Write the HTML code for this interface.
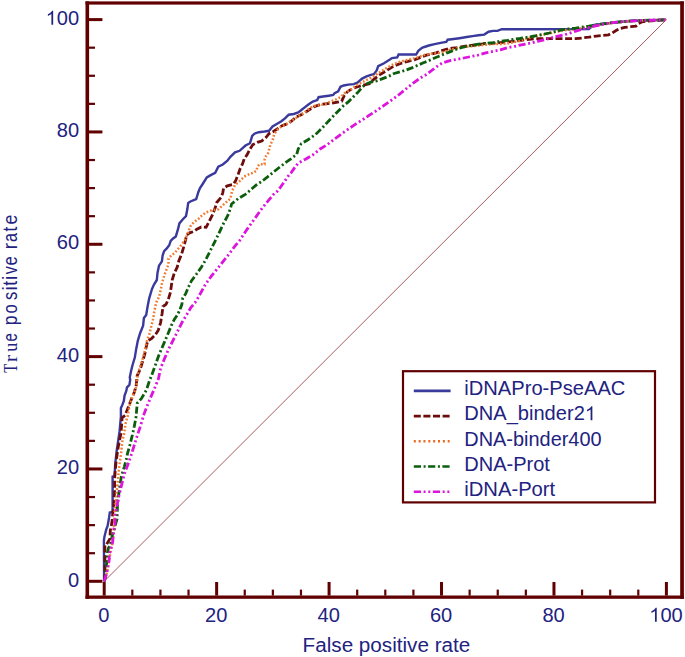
<!DOCTYPE html>
<html><head><meta charset="utf-8"><style>
html,body{margin:0;padding:0;background:#fff;}
body{width:685px;height:657px;overflow:hidden;}
svg{display:block;}
text{font-family:"Liberation Sans",sans-serif;fill:#22227f;}
</style></head><body>
<svg width="685" height="657" viewBox="0 0 685 657">
<rect x="0" y="0" width="685" height="657" fill="#fff"/>

<line x1="104.2" y1="581.3" x2="666.4" y2="19.6" stroke="#984040" stroke-width="1" stroke-opacity="0.85"/>
<polyline fill="none" stroke="#3a3a9c" stroke-width="2.4" stroke-linejoin="miter" points="104.1,581.3 103.9,540.5 104.4,536.9 105.3,533.2 106.2,529.6 107.6,525.9 109.0,518.0 109.8,512.5 112.6,512.0 112.6,476.6 114.6,476.0 115.2,464.4 116.5,452.2 118.3,440.0 119.6,431.2 120.9,416.6 120.9,408.0 122.1,405.6 123.9,400.7 124.5,395.9 126.3,391.0 127.0,387.3 129.4,384.9 130.2,380.0 129.8,377.3 131.0,371.3 132.5,365.2 134.8,357.6 136.3,348.4 137.8,340.8 140.1,333.2 143.1,325.6 143.9,318.0 146.2,315.0 147.7,305.9 149.2,298.3 152.0,289.0 154.0,284.5 156.8,280.0 157.5,273.0 159.0,265.7 161.9,261.3 162.6,255.5 164.1,251.1 167.0,248.2 169.2,245.3 170.7,240.9 172.8,238.7 175.8,236.5 178.0,229.2 179.4,223.4 183.1,219.0 186.0,216.1 187.4,208.8 188.2,202.9 190.4,201.5 196.2,199.0 198.4,192.0 200.0,188.1 203.0,183.5 206.8,177.4 210.7,175.1 215.2,172.8 218.3,166.7 222.8,164.5 227.4,160.7 230.4,156.8 235.0,152.3 239.6,150.8 245.5,145.5 250.0,143.2 252.2,135.9 254.4,133.7 258.8,132.2 264.6,131.5 269.0,130.8 272.6,126.4 276.3,124.2 281.4,121.3 285.0,118.4 288.7,114.7 293.8,114.0 298.2,112.5 301.1,110.3 304.7,107.4 308.4,104.5 312.8,101.6 317.2,100.1 318.6,97.2 323.0,96.5 328.8,95.7 333.2,95.0 334.6,93.2 338.2,91.4 340.5,86.8 343.7,85.5 348.3,84.6 353.7,84.1 357.4,82.7 362.1,78.6 366.5,76.4 370.9,74.9 373.8,74.2 376.7,70.5 378.2,66.2 384.0,63.2 389.9,59.6 392.0,58.1 397.2,57.4 398.6,54.5 405.9,54.5 416.1,54.5 418.3,50.8 422.0,47.9 424.4,47.0 428.8,45.5 434.6,44.1 441.9,42.6 446.3,41.9 447.7,39.7 453.6,39.0 459.4,38.2 463.8,37.5 468.2,36.8 472.6,36.1 478.4,35.3 484.2,34.6 488.6,31.7 493.0,30.9 497.4,30.9 501.8,29.2 588.8,29.1 594.1,24.9 600.0,24.2 614.8,22.4 627.2,21.2 639.6,20.5 652.0,20.2 666.2,19.8"/>
<polyline fill="none" stroke="#6e0c0c" stroke-width="2.8" stroke-dasharray="7 2.6" points="104.2,581.3 104.9,578.0 104.9,545.0 106.7,544.2 109.9,538.7 110.3,530.5 111.2,526.8 112.2,520.0 112.8,513.0 114.0,503.3 114.6,491.1 114.6,478.9 115.8,464.3 116.6,458.0 118.4,445.9 120.9,433.7 121.5,426.3 122.1,417.8 125.1,415.4 127.0,410.5 129.4,404.4 131.8,398.3 134.3,392.2 136.1,386.1 136.8,380.0 137.1,375.8 140.1,369.7 142.4,362.1 144.7,354.5 146.2,346.9 147.7,340.8 151.5,338.6 155.3,334.8 158.3,330.2 160.6,322.6 162.1,313.5 162.9,306.6 166.0,304.3 168.2,299.8 170.5,292.2 171.3,286.1 172.1,280.3 174.3,273.0 177.2,267.2 178.7,261.3 181.6,254.0 183.8,246.7 185.3,240.9 186.7,235.0 189.6,232.8 194.0,231.4 196.9,229.2 201.3,227.0 206.1,227.4 209.1,221.5 212.2,215.4 215.2,207.8 216.7,202.5 221.3,197.2 222.8,192.6 223.6,188.1 227.4,185.8 233.5,184.2 235.8,180.4 238.1,174.4 240.3,168.3 242.6,163.7 244.1,159.1 247.2,154.6 250.0,149.0 252.9,144.6 257.3,142.4 261.7,141.0 266.1,137.3 269.0,133.7 273.4,131.5 277.7,128.6 282.1,125.7 288.0,123.5 292.3,120.5 295.3,117.6 299.6,115.4 304.0,113.2 308.4,110.3 314.2,106.7 320.1,104.5 325.9,103.8 331.8,103.2 337.6,102.2 341.7,101.2 343.9,96.1 347.5,91.7 351.9,88.8 357.7,86.6 363.6,85.1 369.4,83.7 373.8,79.3 379.6,74.9 385.5,71.3 391.3,67.6 397.2,64.7 403.0,62.5 408.8,61.1 414.7,59.6 420.5,57.4 426.4,55.2 430.2,54.3 436.1,52.8 441.9,50.7 449.2,48.5 456.5,47.7 463.8,46.3 471.1,45.5 478.4,44.8 485.7,43.4 493.0,43.4 500.3,42.6 507.6,41.9 514.9,41.2 520.0,40.4 523.1,40.0 536.3,38.7 575.7,38.7 588.8,37.2 596.2,36.1 602.4,35.4 608.6,34.8 612.3,33.0 616.1,30.5 619.8,28.6 624.7,27.4 630.9,26.7 635.9,26.1 638.4,23.6 642.1,21.8 647.1,21.2 654.5,20.5 666.2,19.8"/>
<polyline fill="none" stroke="#f07c34" stroke-width="2.5" stroke-dasharray="1.8 1.9" points="104.2,581.3 107.1,572.0 110.0,555.0 113.0,540.0 114.2,525.0 114.6,513.0 115.8,500.8 117.0,488.7 118.2,476.5 119.5,464.3 120.9,455.0 122.5,440.0 123.9,434.9 125.7,422.7 127.6,416.6 129.4,406.0 131.8,398.3 134.3,392.2 136.5,386.0 137.2,380.0 137.8,374.3 140.1,366.7 143.1,357.6 145.4,348.4 146.9,340.8 149.2,334.8 150.7,328.7 153.0,319.5 154.5,310.4 156.1,302.8 159.1,296.7 160.9,289.1 162.0,283.2 164.1,275.9 166.3,270.1 168.5,264.2 168.5,258.4 171.4,255.5 175.0,252.6 178.7,248.2 182.3,243.8 185.3,239.4 188.2,232.1 190.4,226.3 194.0,221.9 198.4,219.0 200.0,217.0 206.1,212.4 212.2,210.1 218.3,209.4 224.4,203.8 230.4,198.7 232.0,191.1 235.0,185.0 239.6,181.2 244.1,176.6 250.2,173.8 253.6,172.6 256.6,170.4 257.3,166.8 259.5,164.2 264.6,164.2 264.6,159.5 266.1,155.8 268.2,152.9 270.4,144.6 272.6,140.3 274.1,134.4 277.0,130.0 281.4,126.4 286.5,124.2 290.9,121.3 295.3,118.4 299.6,115.4 305.5,111.8 309.9,108.1 314.2,106.0 320.1,105.2 325.9,103.8 330.3,101.6 336.1,99.4 340.5,97.2 344.6,93.2 351.9,88.8 359.2,83.7 365.0,80.8 370.9,77.8 376.7,74.2 382.6,70.5 388.4,66.9 394.2,64.0 400.1,61.8 405.9,60.3 411.8,58.9 417.6,57.4 423.4,55.2 430.0,53.8 441.9,52.8 449.2,49.9 456.5,48.5 463.8,47.0 471.1,46.3 478.4,45.5 485.7,44.8 493.0,44.1 500.3,44.1 507.6,43.4 514.9,41.9 520.0,41.0 523.1,39.3 536.3,36.0 549.4,33.4 562.6,30.5 575.7,29.0 588.8,27.0 600.0,25.0 614.8,22.6 627.2,21.3 639.6,20.6 666.2,19.8"/>
<polyline fill="none" stroke="#0b5e0b" stroke-width="2.8" stroke-dasharray="7.2 2.6 2 2.5" points="104.2,581.3 105.8,576.1 106.7,561.5 107.1,554.2 108.5,547.8 109.9,546.0 112.6,534.1 114.0,530.5 114.9,526.8 117.0,519.1 117.6,503.3 119.5,488.7 121.3,476.5 124.3,466.8 126.3,459.3 127.6,453.2 130.0,444.6 132.4,434.9 134.3,426.3 136.1,416.6 136.7,409.3 137.3,403.2 141.6,398.3 146.5,389.8 149.7,380.0 151.5,375.8 155.3,365.2 159.1,354.5 163.7,343.9 168.2,333.2 171.3,325.6 174.3,319.5 177.4,315.0 179.6,310.4 181.9,304.3 182.7,298.3 185.7,293.7 187.8,288.5 191.4,281.0 196.2,274.5 201.3,267.2 205.7,259.9 210.1,251.1 214.5,242.3 218.8,233.6 223.0,224.5 227.8,215.5 230.4,208.5 231.6,204.0 238.1,198.7 245.7,194.1 250.7,189.8 256.6,184.7 262.4,181.0 268.2,176.3 273.7,171.9 279.2,167.5 285.0,163.1 290.9,158.8 296.7,154.4 298.2,149.0 301.1,143.9 308.4,139.5 315.7,134.4 323.0,127.1 330.3,119.2 335.8,113.6 343.2,106.0 348.3,101.9 353.7,96.4 358.3,91.9 362.0,87.5 365.5,84.2 370.9,82.2 376.7,80.8 382.6,78.6 388.4,76.4 394.2,73.5 400.1,71.9 405.9,70.1 411.8,67.9 417.6,65.3 423.4,62.8 427.3,61.3 434.6,58.0 441.9,55.0 449.2,52.1 456.5,49.2 463.8,47.0 471.1,45.5 478.4,44.1 485.7,43.4 493.0,42.6 500.3,41.2 507.6,40.4 514.9,39.0 520.0,38.5 534.6,36.0 549.2,33.0 563.8,29.4 575.7,28.1 588.8,26.2 600.0,24.2 614.8,22.4 627.2,21.2 639.6,20.5 666.2,19.8"/>
<polyline fill="none" stroke="#dc14dc" stroke-width="2.8" stroke-dasharray="7.2 2.6 2 2.7 2 2.55" points="104.2,581.3 107.1,571.6 109.0,561.5 109.4,554.2 110.8,548.7 112.6,542.4 113.1,536.9 113.5,530.5 114.9,525.0 115.2,515.4 117.0,505.7 118.9,496.0 121.3,486.2 124.3,474.1 128.0,464.3 130.6,456.8 133.7,447.0 136.7,437.3 140.4,426.3 144.0,414.1 147.7,404.4 151.3,395.9 155.0,387.3 158.5,378.5 160.6,368.2 163.7,360.6 168.2,350.0 172.8,340.8 177.4,331.7 181.9,322.6 186.5,315.0 191.0,307.4 195.0,302.8 199.0,296.0 202.8,289.1 205.7,283.9 211.5,275.9 217.4,268.6 223.2,261.3 229.1,254.0 234.5,246.7 239.8,240.3 247.2,229.1 254.8,218.5 262.4,207.8 270.0,198.7 273.4,194.5 277.0,191.6 279.9,188.0 283.6,182.8 288.0,176.3 291.2,172.6 295.3,166.8 298.2,163.1 305.5,159.2 312.8,154.9 320.1,149.0 327.4,144.6 334.7,138.8 341.0,134.2 347.5,129.7 354.8,124.6 362.1,120.1 369.4,115.2 376.7,110.5 384.0,105.4 391.3,100.3 398.6,95.0 405.9,89.0 413.2,83.0 420.2,78.1 427.3,74.0 434.6,68.2 441.9,63.1 449.2,60.9 456.5,59.4 463.8,58.0 471.1,56.5 478.4,55.0 485.7,52.8 493.0,51.4 500.3,49.9 507.6,47.7 514.9,46.3 520.0,45.1 530.2,43.2 537.5,41.4 547.7,38.9 555.8,36.7 566.7,34.1 575.7,31.2 588.8,27.5 600.0,24.9 602.4,24.3 614.8,22.4 627.2,21.2 639.6,20.5 666.2,19.8"/>
<g fill="#600000"><rect x="85.5" y="1.4" width="3.6" height="597.4"/><rect x="85.5" y="1.4" width="598.4" height="3.2"/><rect x="680.2" y="1.4" width="3.7" height="597.4"/><rect x="85.5" y="595.5" width="598.4" height="3.3"/></g>
<g fill="#600000"><rect x="89" y="579.80" width="13.4" height="3.0"/><rect x="102.70" y="582" width="3.0" height="13.6"/><rect x="89" y="552.11" width="6" height="2.2"/><rect x="131.21" y="589.6" width="2.2" height="6"/><rect x="89" y="524.03" width="6" height="2.2"/><rect x="159.32" y="589.6" width="2.2" height="6"/><rect x="89" y="495.94" width="6" height="2.2"/><rect x="187.43" y="589.6" width="2.2" height="6"/><rect x="89" y="467.46" width="13.4" height="3.0"/><rect x="215.14" y="582" width="3.0" height="13.6"/><rect x="89" y="439.77" width="6" height="2.2"/><rect x="243.65" y="589.6" width="2.2" height="6"/><rect x="89" y="411.69" width="6" height="2.2"/><rect x="271.76" y="589.6" width="2.2" height="6"/><rect x="89" y="383.60" width="6" height="2.2"/><rect x="299.87" y="589.6" width="2.2" height="6"/><rect x="89" y="355.12" width="13.4" height="3.0"/><rect x="327.58" y="582" width="3.0" height="13.6"/><rect x="89" y="327.43" width="6" height="2.2"/><rect x="356.09" y="589.6" width="2.2" height="6"/><rect x="89" y="299.35" width="6" height="2.2"/><rect x="384.20" y="589.6" width="2.2" height="6"/><rect x="89" y="271.26" width="6" height="2.2"/><rect x="412.31" y="589.6" width="2.2" height="6"/><rect x="89" y="242.78" width="13.4" height="3.0"/><rect x="440.02" y="582" width="3.0" height="13.6"/><rect x="89" y="215.09" width="6" height="2.2"/><rect x="468.53" y="589.6" width="2.2" height="6"/><rect x="89" y="187.01" width="6" height="2.2"/><rect x="496.64" y="589.6" width="2.2" height="6"/><rect x="89" y="158.92" width="6" height="2.2"/><rect x="524.75" y="589.6" width="2.2" height="6"/><rect x="89" y="130.44" width="13.4" height="3.0"/><rect x="552.46" y="582" width="3.0" height="13.6"/><rect x="89" y="102.75" width="6" height="2.2"/><rect x="580.97" y="589.6" width="2.2" height="6"/><rect x="89" y="74.67" width="6" height="2.2"/><rect x="609.08" y="589.6" width="2.2" height="6"/><rect x="89" y="46.58" width="6" height="2.2"/><rect x="637.19" y="589.6" width="2.2" height="6"/><rect x="89" y="18.10" width="13.4" height="3.0"/><rect x="664.90" y="582" width="3.0" height="13.6"/></g>
<text transform="translate(79.20,586.50) scale(1.03,1)" text-anchor="end" font-size="19.5">0</text><text transform="translate(103.80,621.80) scale(1.03,1)" text-anchor="middle" font-size="19.5">0</text><text transform="translate(79.20,474.16) scale(1.03,1)" text-anchor="end" font-size="19.5">20</text><text transform="translate(216.24,621.80) scale(1.03,1)" text-anchor="middle" font-size="19.5">20</text><text transform="translate(79.20,361.82) scale(1.03,1)" text-anchor="end" font-size="19.5">40</text><text transform="translate(328.68,621.80) scale(1.03,1)" text-anchor="middle" font-size="19.5">40</text><text transform="translate(79.20,249.48) scale(1.03,1)" text-anchor="end" font-size="19.5">60</text><text transform="translate(441.12,621.80) scale(1.03,1)" text-anchor="middle" font-size="19.5">60</text><text transform="translate(79.20,137.14) scale(1.03,1)" text-anchor="end" font-size="19.5">80</text><text transform="translate(553.56,621.80) scale(1.03,1)" text-anchor="middle" font-size="19.5">80</text><g transform="translate(79.20,24.80) scale(1.03,1)"><path fill="#22227f" d="M763 0L583 0L583 1147Q518 1085 412.5 1023Q307 961 223 930L223 1104Q374 1175 484.5 1273.5Q595 1372 657 1466L763 1466Z" transform="translate(-32.535,0) scale(0.009521,-0.009521)"/><text x="-21.690" y="0" font-size="19.5">00</text></g><g transform="translate(666.00,621.80) scale(1.03,1)"><path fill="#22227f" d="M763 0L583 0L583 1147Q518 1085 412.5 1023Q307 961 223 930L223 1104Q374 1175 484.5 1273.5Q595 1372 657 1466L763 1466Z" transform="translate(-16.267,0) scale(0.009521,-0.009521)"/><text x="-5.422" y="0" font-size="19.5">00</text></g>
<text transform="translate(302.6,651.8) scale(1.034,1)" font-size="20">False positive rate</text>
<text transform="translate(16.8,372.66) rotate(-90) scale(0.748,1)" font-size="19.5" style="font-family:'Liberation Serif',serif">T</text><text transform="translate(16.8,362.20) rotate(-90) scale(1.260,1)" font-size="18" style="font-family:'Liberation Serif',serif">r</text><text transform="translate(16.8,351.79) rotate(-90) scale(1.005,1)" font-size="18" style="font-family:'Liberation Serif',serif">u</text><text transform="translate(16.8,341.53) rotate(-90) scale(0.746,1)" font-size="20" style="font-family:'Liberation Sans',sans-serif">e</text><text transform="translate(16.8,325.18) rotate(-90) scale(0.878,1)" font-size="20" style="font-family:'Liberation Sans',sans-serif">p</text><text transform="translate(16.8,313.55) rotate(-90) scale(0.837,1)" font-size="20" style="font-family:'Liberation Sans',sans-serif">o</text><text transform="translate(16.8,300.01) rotate(-90) scale(0.826,1)" font-size="20" style="font-family:'Liberation Sans',sans-serif">s</text><text transform="translate(16.8,290.75) rotate(-90) scale(1.081,1)" font-size="20" style="font-family:'Liberation Sans',sans-serif">i</text><text transform="translate(16.8,285.77) rotate(-90) scale(0.881,1)" font-size="20" style="font-family:'Liberation Sans',sans-serif">t</text><text transform="translate(16.8,279.99) rotate(-90) scale(0.967,1)" font-size="20" style="font-family:'Liberation Sans',sans-serif">i</text><text transform="translate(16.8,274.30) rotate(-90) scale(0.801,1)" font-size="20" style="font-family:'Liberation Sans',sans-serif">v</text><text transform="translate(16.8,265.57) rotate(-90) scale(0.842,1)" font-size="20" style="font-family:'Liberation Sans',sans-serif">e</text><text transform="translate(16.8,249.25) rotate(-90) scale(0.940,1)" font-size="20" style="font-family:'Liberation Sans',sans-serif">r</text><text transform="translate(16.8,242.04) rotate(-90) scale(0.808,1)" font-size="20" style="font-family:'Liberation Sans',sans-serif">a</text><text transform="translate(16.8,231.46) rotate(-90) scale(0.861,1)" font-size="20" style="font-family:'Liberation Sans',sans-serif">t</text><text transform="translate(16.8,224.60) rotate(-90) scale(0.884,1)" font-size="20" style="font-family:'Liberation Sans',sans-serif">e</text>
<rect x="403" y="371.2" width="252" height="131.2" fill="#fff" stroke="#600000" stroke-width="2.2"/>
<line x1="413.8" y1="390.9" x2="450.6" y2="390.9" stroke="#3a3a9c" stroke-width="2.6"/>
<text transform="translate(464.3,395.10) scale(1.033,1)" font-size="19.5">iDNAPro-PseAAC</text>
<line x1="413.8" y1="416.1" x2="450.6" y2="416.1" stroke="#6e0c0c" stroke-width="2.6" stroke-dasharray="7 2.6"/>
<g transform="translate(464.3,420.30) scale(1.03,1)"><text font-size="19.5">DNA_binder2</text><path fill="#22227f" d="M763 0L583 0L583 1147Q518 1085 412.5 1023Q307 961 223 930L223 1104Q374 1175 484.5 1273.5Q595 1372 657 1466L763 1466Z" transform="translate(117.078,0) scale(0.009521,-0.009521)"/></g>
<line x1="413.8" y1="441.3" x2="450.6" y2="441.3" stroke="#ec6a20" stroke-width="2.6" stroke-dasharray="2 2.84"/>
<text transform="translate(464.3,445.50) scale(1.022,1)" font-size="19.5">DNA-binder400</text>
<line x1="413.8" y1="466.5" x2="450.6" y2="466.5" stroke="#0b5e0b" stroke-width="2.6" stroke-dasharray="7.2 2.6 2 2.5"/>
<text transform="translate(464.3,470.70) scale(1.027,1)" font-size="19.5">DNA-Prot</text>
<line x1="413.8" y1="491.7" x2="450.6" y2="491.7" stroke="#dc14dc" stroke-width="2.6" stroke-dasharray="7.2 2.6 2 2.7 2 2.55"/>
<text transform="translate(464.3,495.90) scale(1.036,1)" font-size="19.5">iDNA-Port</text>
</svg>
</body></html>
